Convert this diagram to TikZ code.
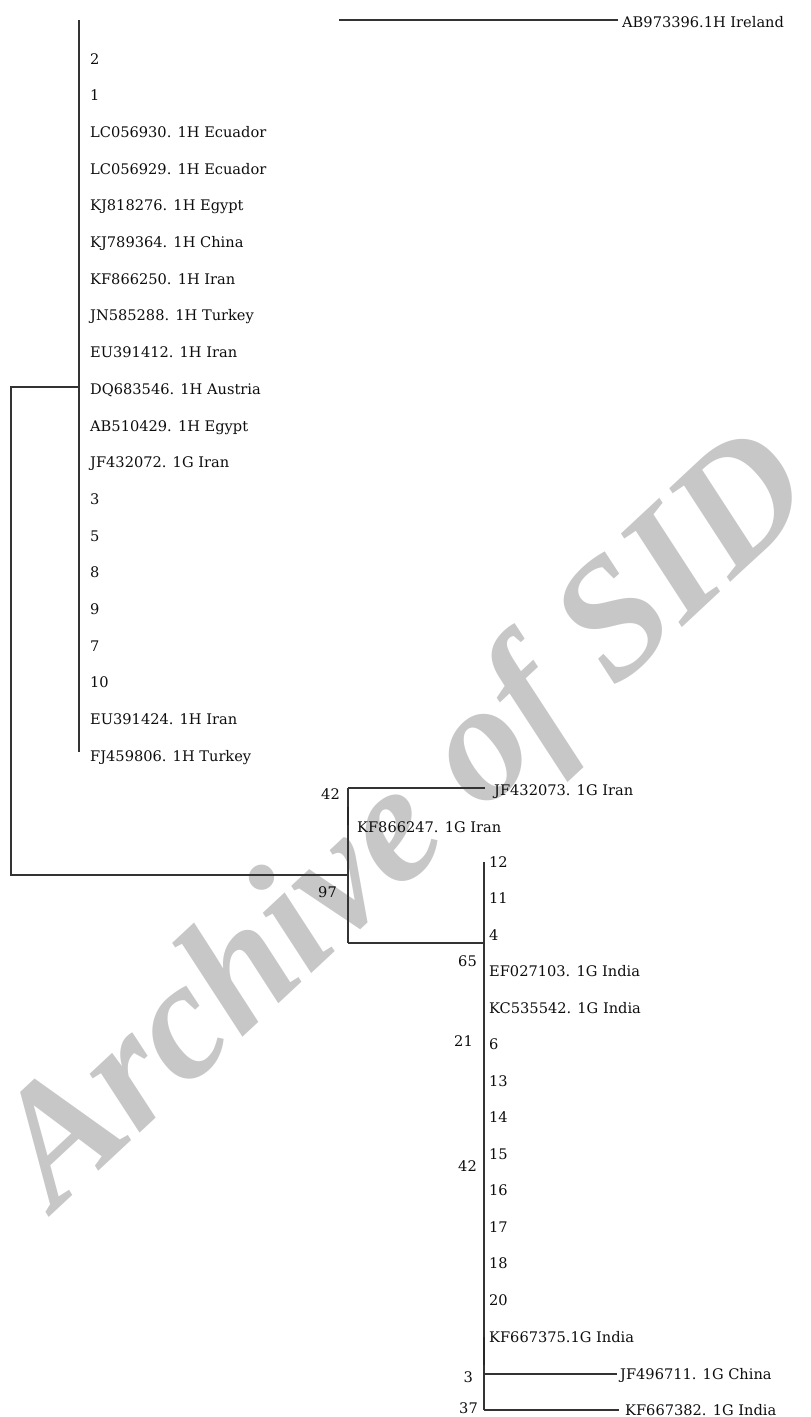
\documentclass[tikz,border=0pt]{standalone}
\usepackage{fontspec}
\newfontfamily\markfont{Liberation Serif}
\newfontfamily\treefont{DejaVu Serif}
\begin{document}
\begin{tikzpicture}[x=1pt, y=-1pt,
    branch/.style={line width=1.1pt, black!80},
    thickbranch/.style={line width=2.8pt, black!85},
    leaf/.style={anchor=west, inner sep=0pt, text height=11pt, text depth=0pt,
      text=black!95, font=\treefont\fontsize{14.6}{17}\selectfont},
    boot/.style={anchor=base east, inner sep=0pt, text=black!95,
      font=\treefont\fontsize{14.6}{17}\selectfont}]
  \useasboundingbox (0,0) rectangle (811,1417);

  % Watermark
  \node[rotate=43, text=black!22, font=\markfont\bfseries\itshape\fontsize{168}{168}\selectfont]
    (mark) at (410,825) {Archive of SID};

  % Outgroup
  \coordinate (irl) at (339,20);
  \node[leaf] (ireland) at (622,21.5) {AB973396.1H Ireland};
  \draw[branch, shorten >=4pt] (irl) -- (irl -| ireland.west);

  % Clade H
  \foreach \lab [count=\i] in {2, 1, LC056930. 1H Ecuador, LC056929. 1H Ecuador,
      KJ818276. 1H Egypt, KJ789364. 1H China, KF866250. 1H Iran, JN585288. 1H Turkey,
      EU391412. 1H Iran, DQ683546. 1H Austria, AB510429. 1H Egypt, JF432072. 1G Iran,
      3, 5, 8, 9, 7, 10, EU391424. 1H Iran, FJ459806. 1H Turkey}
    \node[leaf] (h\i) at (90, {58.5+36.7*(\i-1)}) {\lab};
  \coordinate (htop) at (79,20);
  \coordinate (hbot) at (79,752);
  \draw[branch] (htop) -- (hbot);

  % Root
  \coordinate (hjoin) at (79,387);
  \coordinate (rtop) at (11,387);
  \coordinate (rbot) at (11,875);
  \coordinate (gjoin) at (348,875);
  \draw[branch] (hjoin) -- (rtop) -- (rbot) -- (gjoin);

  % Clade G
  \coordinate (gtop) at (348,788);
  \coordinate (gbot) at (348,943);
  \draw[branch] (gtop) -- (gbot);
  \node[leaf] (jf73) at (494,789.5) {JF432073. 1G Iran};
  \draw[branch, shorten >=9pt] (gtop) -- (gtop -| jf73.west);
  \node[leaf] (kf47) at (357,826.5) {KF866247. 1G Iran};
  \draw[thickbranch] (348,807) -- (348,825);
  \node[boot] (b42a) at (340,799) {42};
  \node[boot] (b97) at (337,897) {97};

  % Clade G, India group
  \foreach \lab [count=\i] in {12, 11, 4, EF027103. 1G India, KC535542. 1G India,
      6, 13, 14, 15, 16, 17, 18, 20, KF667375.1G India}
    \node[leaf] (g\i) at (489, {861.5+36.54*(\i-1)}) {\lab};
  \node[leaf] (jf11) at (620,1374) {JF496711. 1G China};
  \node[leaf] (kf82) at (625,1410) {KF667382. 1G India};
  \coordinate (itop) at (484,862);
  \coordinate (ijoin) at (484,943);
  \coordinate (ichn) at (484,1374);
  \coordinate (ibot) at (484,1410);
  \draw[branch] (gbot) -- (ijoin);
  \draw[branch] (itop) -- (ibot);
  \draw[branch, shorten >=3pt] (ichn) -- (ichn -| jf11.west);
  \draw[branch, shorten >=6pt] (ibot) -- (ibot -| kf82.west);
  \draw[thickbranch] (484,1337) -- (484,1365);
  \node[boot] (b65) at (477,966) {65};
  \node[boot] (b21) at (473,1046) {21};
  \node[boot] (b42b) at (477,1171) {42};
  \node[boot] (b3) at (473,1382) {3};
  \node[boot] (b37) at (478,1413) {37};
\end{tikzpicture}
\end{document}
